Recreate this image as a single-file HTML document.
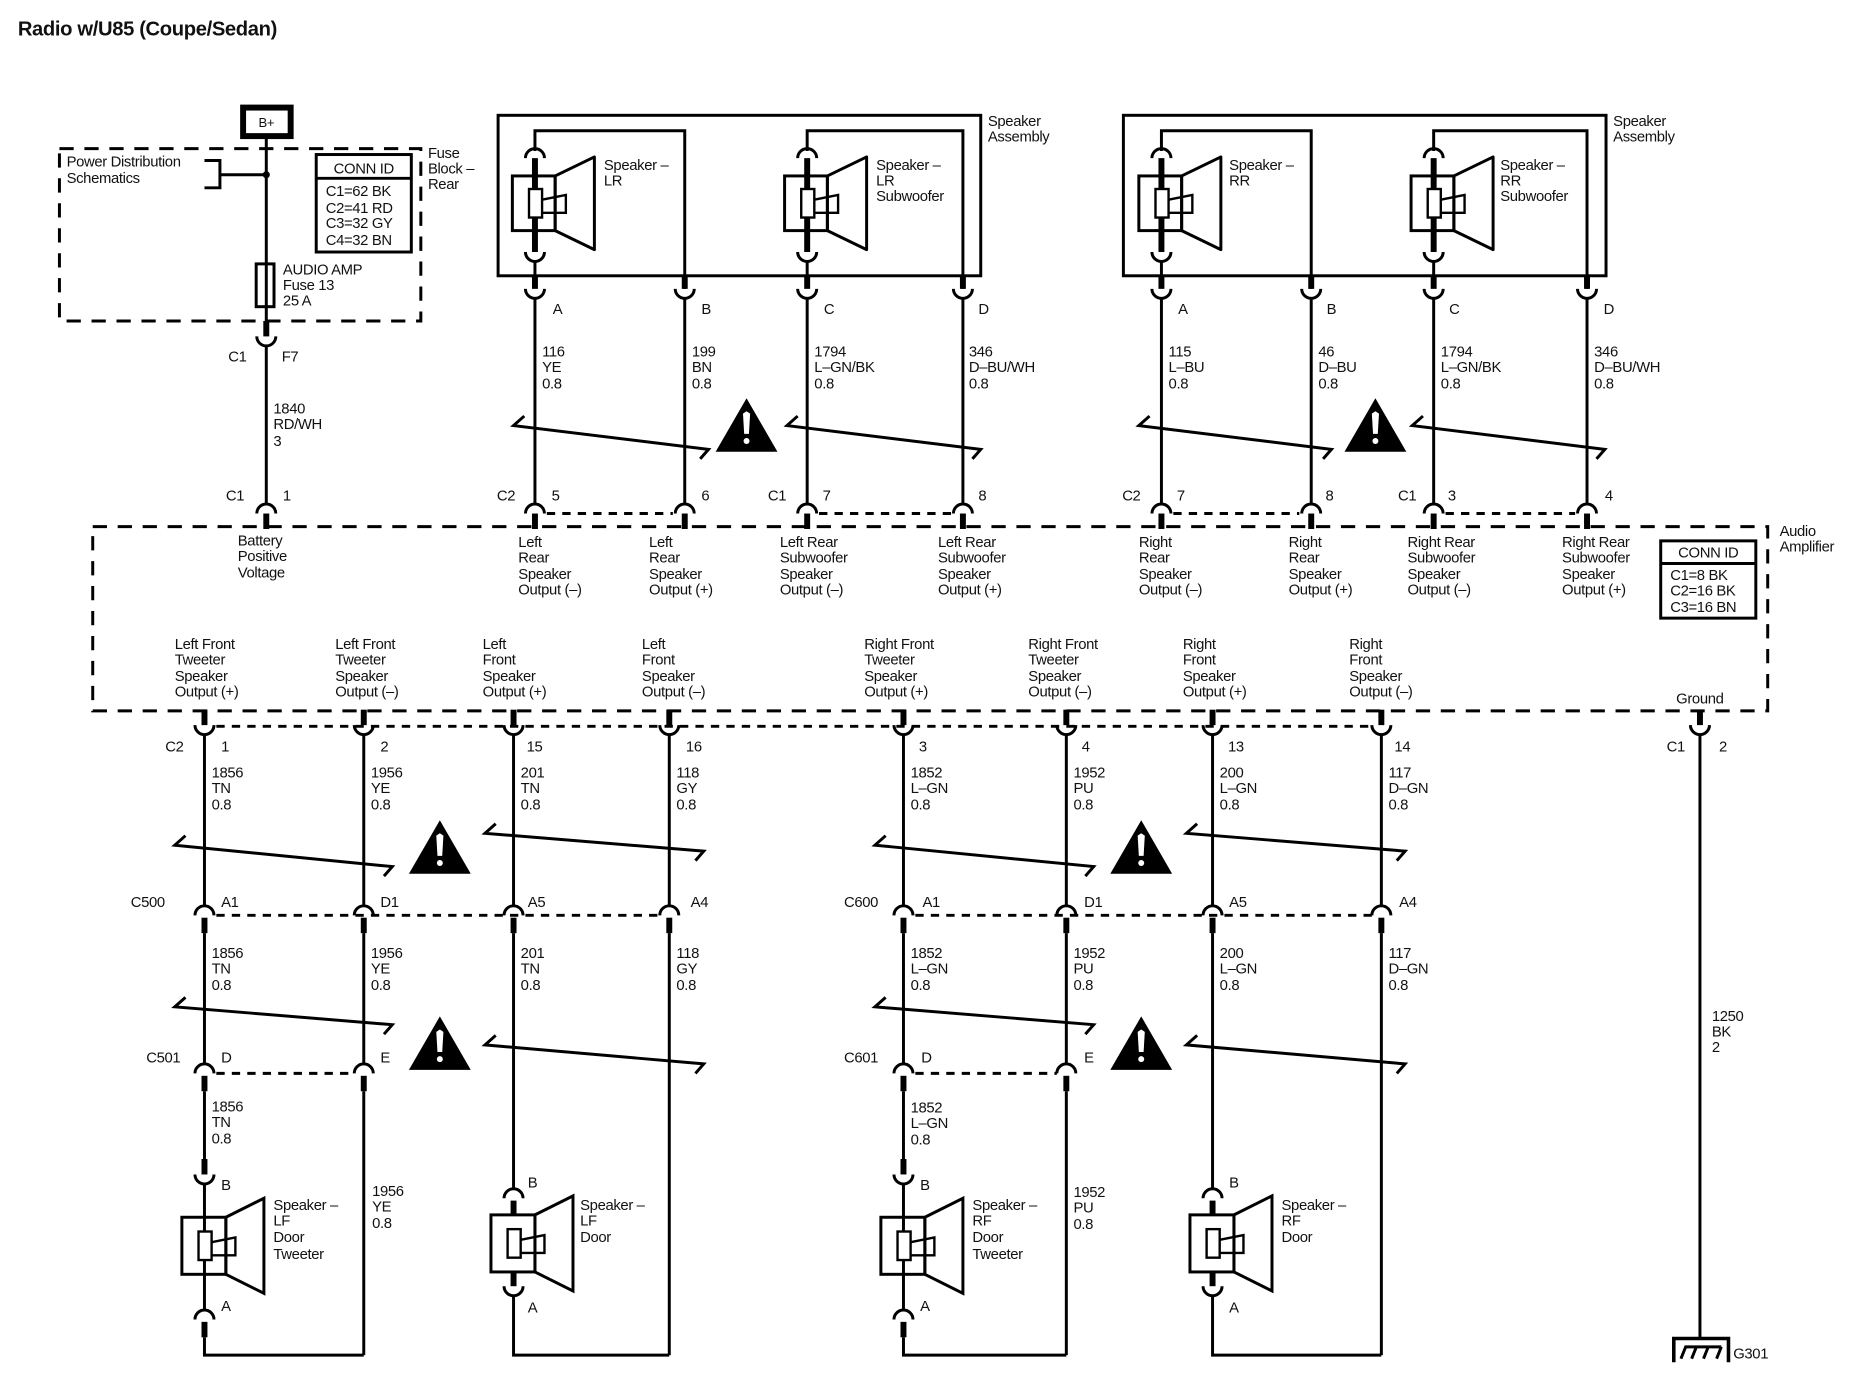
<!DOCTYPE html>
<html><head><meta charset="utf-8"><style>
html,body{margin:0;padding:0;background:#fff}
svg{display:block}
text{font-family:"Liberation Sans",sans-serif;font-size:12.5px;fill:#111;letter-spacing:-0.3px}
.b{font-weight:bold}
.w{stroke:#000;stroke-width:2.5;fill:none}
.t{stroke:#000;stroke-width:5;fill:none}
.a{stroke:#000;stroke-width:2.5;fill:none}
.d{stroke:#000;stroke-width:2.5;fill:none;stroke-dasharray:7,6}
.dl{stroke:#000;stroke-width:2.5;fill:none;stroke-dasharray:12,9}
</style></head><body>
<svg width="1864" height="1392" viewBox="0 0 1568 1171" preserveAspectRatio="none" xmlns="http://www.w3.org/2000/svg">
<defs>
<g id="spk">
<rect x="-19" y="-23" width="36" height="46" fill="#fff" stroke="#000" stroke-width="2.5"/>
<polygon points="17,-23 50,-39 50,39 17,23" fill="none" stroke="#000" stroke-width="2.5" stroke-linejoin="round"/>
<line x1="0" y1="-23" x2="0" y2="23" stroke="#000" stroke-width="5"/>
<rect x="-5" y="-12" width="11" height="24" fill="#fff" stroke="#000" stroke-width="2"/>
<path d="M6,-3 L26,-7 L26,8 L6,8" fill="none" stroke="#000" stroke-width="2"/>
</g>
<g id="cup"><path d="M-8,0 A8,8 0 0 0 8,0" class="a"/></g>
<g id="cap"><path d="M-8,0 A8,8 0 0 1 8,0" class="a"/></g>
<g id="tri"><polygon points="0,0 -26,45 26,45" fill="#000"/><path d="M0,11 L-3,13 L-2,30 L2,30 L3,13 Z" fill="#fff"/><circle cx="0" cy="36" r="2.5" fill="#fff"/></g>
</defs>

<text x="15" y="30" class="b" style="font-size:17px">Radio w/U85 (Coupe/Sedan)</text>

<rect x="204.5" y="90.5" width="40" height="24" fill="none" stroke="#000" stroke-width="5"/>
<text x="224" y="107" text-anchor="middle" style="font-size:11px">B+</text>
<rect x="50" y="125" width="304" height="145" class="dl"/>
<line x1="224" y1="116" x2="224" y2="272" class="w"/>
<rect x="215.5" y="222" width="15" height="36" fill="#fff" stroke="#000" stroke-width="2.5"/>
<line x1="224" y1="222" x2="224" y2="258" class="w"/>
<path d="M172,135 L185,135 L185,158 L172,158 M185,147 L224,147" class="w"/>
<circle cx="224" cy="147" r="3"/>
<text x="56" y="140">Power Distribution</text>
<text x="56" y="154">Schematics</text>
<rect x="266" y="130" width="80" height="82" fill="none" stroke="#000" stroke-width="2.5"/>
<line x1="266" y1="150" x2="346" y2="150" class="w"/>
<text x="306" y="146" text-anchor="middle">CONN ID</text>
<text x="274" y="165">C1=62 BK</text>
<text x="274" y="179">C2=41 RD</text>
<text x="274" y="192">C3=32 GY</text>
<text x="274" y="206">C4=32 BN</text>
<text x="360" y="133">Fuse</text><text x="360" y="146">Block –</text><text x="360" y="159">Rear</text>
<text x="238" y="231">AUDIO AMP</text><text x="238" y="244">Fuse 13</text><text x="238" y="257">25 A</text>
<line x1="224" y1="270" x2="224" y2="283" class="t"/>
<use href="#cup" x="224" y="283"/>
<line x1="224" y1="291" x2="224" y2="424" class="w"/>
<text x="192" y="304">C1</text><text x="237" y="304">F7</text>
<text x="230" y="348">1840</text><text x="230" y="361">RD/WH</text><text x="230" y="375">3</text>
<text x="190" y="421">C1</text><text x="238" y="421">1</text>
<use href="#cap" x="224" y="432"/>
<line x1="224" y1="432" x2="224" y2="445" class="t"/>

<rect x="78" y="443" width="1409" height="155" class="dl"/>
<text x="200" y="459">Battery</text><text x="200" y="472">Positive</text><text x="200" y="486">Voltage</text>

<rect x="419" y="97" width="406" height="135" class="w"/>
<rect x="945" y="97" width="406" height="135" class="w"/>
<text x="831" y="106">Speaker</text><text x="831" y="119">Assembly</text>
<text x="1357" y="106">Speaker</text><text x="1357" y="119">Assembly</text>

<g>
<path d="M450,127 L450,110 L576,110 L576,243" class="w"/>
<path d="M679,127 L679,110 L810,110 L810,243" class="w"/>
<path d="M977,127 L977,110 L1103,110 L1103,243" class="w"/>
<path d="M1206,127 L1206,110 L1335,110 L1335,243" class="w"/>
</g>
<use href="#cap" x="450" y="133"/><use href="#cap" x="679" y="133"/><use href="#cap" x="977" y="133"/><use href="#cap" x="1206" y="133"/>
<line x1="450" y1="133" x2="450" y2="212" class="t"/><line x1="679" y1="133" x2="679" y2="212" class="t"/><line x1="977" y1="133" x2="977" y2="212" class="t"/><line x1="1206" y1="133" x2="1206" y2="212" class="t"/>
<use href="#spk" x="450" y="171"/><use href="#spk" x="679" y="171"/><use href="#spk" x="977" y="171"/><use href="#spk" x="1206" y="171"/>
<use href="#cup" x="450" y="212"/><use href="#cup" x="679" y="212"/><use href="#cup" x="977" y="212"/><use href="#cup" x="1206" y="212"/>
<g class="w">
<line x1="450" y1="220" x2="450" y2="232"/><line x1="679" y1="220" x2="679" y2="232"/><line x1="977" y1="220" x2="977" y2="232"/><line x1="1206" y1="220" x2="1206" y2="232"/>
</g>
<text x="508" y="143">Speaker –</text><text x="508" y="156">LR</text>
<text x="737" y="143">Speaker –</text><text x="737" y="156">LR</text><text x="737" y="169">Subwoofer</text>
<text x="1034" y="143">Speaker –</text><text x="1034" y="156">RR</text>
<text x="1262" y="143">Speaker –</text><text x="1262" y="156">RR</text><text x="1262" y="169">Subwoofer</text>

<g class="t">
<line x1="450" y1="232" x2="450" y2="243"/><line x1="576" y1="232" x2="576" y2="243"/><line x1="679" y1="232" x2="679" y2="243"/><line x1="810" y1="232" x2="810" y2="243"/>
<line x1="977" y1="232" x2="977" y2="243"/><line x1="1103" y1="232" x2="1103" y2="243"/><line x1="1206" y1="232" x2="1206" y2="243"/><line x1="1335" y1="232" x2="1335" y2="243"/>
</g>
<use href="#cup" x="450" y="243"/><use href="#cup" x="576" y="243"/><use href="#cup" x="679" y="243"/><use href="#cup" x="810" y="243"/>
<use href="#cup" x="977" y="243"/><use href="#cup" x="1103" y="243"/><use href="#cup" x="1206" y="243"/><use href="#cup" x="1335" y="243"/>
<g class="w">
<line x1="450" y1="251" x2="450" y2="424"/><line x1="576" y1="251" x2="576" y2="424"/><line x1="679" y1="251" x2="679" y2="424"/><line x1="810" y1="251" x2="810" y2="424"/>
<line x1="977" y1="251" x2="977" y2="424"/><line x1="1103" y1="251" x2="1103" y2="424"/><line x1="1206" y1="251" x2="1206" y2="424"/><line x1="1335" y1="251" x2="1335" y2="424"/>
</g>
<use href="#cap" x="450" y="432"/><use href="#cap" x="576" y="432"/><use href="#cap" x="679" y="432"/><use href="#cap" x="810" y="432"/>
<use href="#cap" x="977" y="432"/><use href="#cap" x="1103" y="432"/><use href="#cap" x="1206" y="432"/><use href="#cap" x="1335" y="432"/>
<g class="t">
<line x1="450" y1="432" x2="450" y2="445"/><line x1="576" y1="432" x2="576" y2="445"/><line x1="679" y1="432" x2="679" y2="445"/><line x1="810" y1="432" x2="810" y2="445"/>
<line x1="977" y1="432" x2="977" y2="445"/><line x1="1103" y1="432" x2="1103" y2="445"/><line x1="1206" y1="432" x2="1206" y2="445"/><line x1="1335" y1="432" x2="1335" y2="445"/>
</g>
<g class="d">
<line x1="460" y1="432" x2="566" y2="432"/><line x1="689" y1="432" x2="800" y2="432"/><line x1="987" y1="432" x2="1093" y2="432"/><line x1="1216" y1="432" x2="1325" y2="432"/>
</g>
<text x="465" y="264">A</text><text x="590" y="264">B</text><text x="693" y="264">C</text><text x="823" y="264">D</text>
<text x="991" y="264">A</text><text x="1116" y="264">B</text><text x="1219" y="264">C</text><text x="1349" y="264">D</text>
<text x="456" y="300">116</text><text x="456" y="313">YE</text><text x="456" y="327">0.8</text>
<text x="582" y="300">199</text><text x="582" y="313">BN</text><text x="582" y="327">0.8</text>
<text x="685" y="300">1794</text><text x="685" y="313">L–GN/BK</text><text x="685" y="327">0.8</text>
<text x="815" y="300">346</text><text x="815" y="313">D–BU/WH</text><text x="815" y="327">0.8</text>
<text x="983" y="300">115</text><text x="983" y="313">L–BU</text><text x="983" y="327">0.8</text>
<text x="1109" y="300">46</text><text x="1109" y="313">D–BU</text><text x="1109" y="327">0.8</text>
<text x="1212" y="300">1794</text><text x="1212" y="313">L–GN/BK</text><text x="1212" y="327">0.8</text>
<text x="1341" y="300">346</text><text x="1341" y="313">D–BU/WH</text><text x="1341" y="327">0.8</text>
<g class="w">
<path d="M441,350 L432,358 L596,378 L589,386"/>
<path d="M671,350 L662,358 L825,378 L818,386"/>
<path d="M967,350 L958,358 L1120,378 L1113,386"/>
<path d="M1197,350 L1188,358 L1350,378 L1343,386"/>
</g>
<use href="#tri" x="628" y="335"/><use href="#tri" x="1157" y="335"/>
<text x="418" y="421">C2</text><text x="464" y="421">5</text><text x="590" y="421">6</text>
<text x="646" y="421">C1</text><text x="692" y="421">7</text><text x="823" y="421">8</text>
<text x="944" y="421">C2</text><text x="990" y="421">7</text><text x="1115" y="421">8</text>
<text x="1176" y="421">C1</text><text x="1218" y="421">3</text><text x="1350" y="421">4</text>
<text x="436" y="460">Left</text><text x="436" y="473">Rear</text><text x="436" y="487">Speaker</text><text x="436" y="500">Output (–)</text>
<text x="546" y="460">Left</text><text x="546" y="473">Rear</text><text x="546" y="487">Speaker</text><text x="546" y="500">Output (+)</text>
<text x="656" y="460">Left Rear</text><text x="656" y="473">Subwoofer</text><text x="656" y="487">Speaker</text><text x="656" y="500">Output (–)</text>
<text x="789" y="460">Left Rear</text><text x="789" y="473">Subwoofer</text><text x="789" y="487">Speaker</text><text x="789" y="500">Output (+)</text>
<text x="958" y="460">Right</text><text x="958" y="473">Rear</text><text x="958" y="487">Speaker</text><text x="958" y="500">Output (–)</text>
<text x="1084" y="460">Right</text><text x="1084" y="473">Rear</text><text x="1084" y="487">Speaker</text><text x="1084" y="500">Output (+)</text>
<text x="1184" y="460">Right Rear</text><text x="1184" y="473">Subwoofer</text><text x="1184" y="487">Speaker</text><text x="1184" y="500">Output (–)</text>
<text x="1314" y="460">Right Rear</text><text x="1314" y="473">Subwoofer</text><text x="1314" y="487">Speaker</text><text x="1314" y="500">Output (+)</text>
<rect x="1397" y="455" width="80" height="65" fill="#fff" stroke="#000" stroke-width="2.5"/>
<line x1="1397" y1="474" x2="1477" y2="474" class="w"/>
<text x="1437" y="469" text-anchor="middle">CONN ID</text>
<text x="1405" y="488">C1=8 BK</text><text x="1405" y="501">C2=16 BK</text><text x="1405" y="515">C3=16 BN</text>
<rect x="1489" y="440" width="70" height="30" fill="#fff"/>
<text x="1497" y="451">Audio</text><text x="1497" y="464">Amplifier</text>
<text x="147" y="546">Left Front</text><text x="147" y="559">Tweeter</text><text x="147" y="573">Speaker</text><text x="147" y="586">Output (+)</text>
<text x="282" y="546">Left Front</text><text x="282" y="559">Tweeter</text><text x="282" y="573">Speaker</text><text x="282" y="586">Output (–)</text>
<text x="406" y="546">Left</text><text x="406" y="559">Front</text><text x="406" y="573">Speaker</text><text x="406" y="586">Output (+)</text>
<text x="540" y="546">Left</text><text x="540" y="559">Front</text><text x="540" y="573">Speaker</text><text x="540" y="586">Output (–)</text>
<text x="727" y="546">Right Front</text><text x="727" y="559">Tweeter</text><text x="727" y="573">Speaker</text><text x="727" y="586">Output (+)</text>
<text x="865" y="546">Right Front</text><text x="865" y="559">Tweeter</text><text x="865" y="573">Speaker</text><text x="865" y="586">Output (–)</text>
<text x="995" y="546">Right</text><text x="995" y="559">Front</text><text x="995" y="573">Speaker</text><text x="995" y="586">Output (+)</text>
<text x="1135" y="546">Right</text><text x="1135" y="559">Front</text><text x="1135" y="573">Speaker</text><text x="1135" y="586">Output (–)</text>
<text x="1410" y="592">Ground</text>

<g class="t">
<line x1="172" y1="597" x2="172" y2="610"/><line x1="306" y1="597" x2="306" y2="610"/><line x1="432" y1="597" x2="432" y2="610"/><line x1="563" y1="597" x2="563" y2="610"/>
<line x1="760" y1="597" x2="760" y2="610"/><line x1="897" y1="597" x2="897" y2="610"/><line x1="1020" y1="597" x2="1020" y2="610"/><line x1="1162" y1="597" x2="1162" y2="610"/>
<line x1="1430" y1="597" x2="1430" y2="610"/>
</g>
<use href="#cup" x="172" y="610"/><use href="#cup" x="306" y="610"/><use href="#cup" x="432" y="610"/><use href="#cup" x="563" y="610"/>
<use href="#cup" x="760" y="610"/><use href="#cup" x="897" y="610"/><use href="#cup" x="1020" y="610"/><use href="#cup" x="1162" y="610"/>
<use href="#cup" x="1430" y="610"/>
<line x1="182" y1="611" x2="1154" y2="611" class="d"/>
<text x="139" y="632">C2</text><text x="186" y="632">1</text><text x="320" y="632">2</text><text x="443" y="632">15</text><text x="577" y="632">16</text>
<text x="773" y="632">3</text><text x="910" y="632">4</text><text x="1033" y="632">13</text><text x="1173" y="632">14</text>
<text x="1402" y="632">C1</text><text x="1446" y="632">2</text>

<g class="w">
<line x1="172" y1="618" x2="172" y2="762"/><line x1="306" y1="618" x2="306" y2="762"/><line x1="432" y1="618" x2="432" y2="762"/><line x1="563" y1="618" x2="563" y2="762"/>
<line x1="760" y1="618" x2="760" y2="762"/><line x1="897" y1="618" x2="897" y2="762"/><line x1="1020" y1="618" x2="1020" y2="762"/><line x1="1162" y1="618" x2="1162" y2="762"/>
<line x1="1430" y1="618" x2="1430" y2="1125"/>
</g>
<text x="178" y="654">1856</text><text x="178" y="667">TN</text><text x="178" y="681">0.8</text>
<text x="312" y="654">1956</text><text x="312" y="667">YE</text><text x="312" y="681">0.8</text>
<text x="438" y="654">201</text><text x="438" y="667">TN</text><text x="438" y="681">0.8</text>
<text x="569" y="654">118</text><text x="569" y="667">GY</text><text x="569" y="681">0.8</text>
<text x="766" y="654">1852</text><text x="766" y="667">L–GN</text><text x="766" y="681">0.8</text>
<text x="903" y="654">1952</text><text x="903" y="667">PU</text><text x="903" y="681">0.8</text>
<text x="1026" y="654">200</text><text x="1026" y="667">L–GN</text><text x="1026" y="681">0.8</text>
<text x="1168" y="654">117</text><text x="1168" y="667">D–GN</text><text x="1168" y="681">0.8</text>
<g class="w">
<path d="M156,703 L147,711 L330,729 L323,737"/>
<path d="M417,693 L408,701 L592,716 L585,724"/>
<path d="M745,703 L736,711 L920,729 L913,737"/>
<path d="M1007,693 L998,701 L1182,716 L1175,724"/>
</g>
<use href="#tri" x="370" y="690"/><use href="#tri" x="960" y="690"/>
<use href="#cap" x="172" y="770"/><use href="#cap" x="306" y="770"/><use href="#cap" x="432" y="770"/><use href="#cap" x="563" y="770"/>
<use href="#cap" x="760" y="770"/><use href="#cap" x="897" y="770"/><use href="#cap" x="1020" y="770"/><use href="#cap" x="1162" y="770"/>
<line x1="182" y1="770" x2="555" y2="770" class="d"/><line x1="770" y1="770" x2="1154" y2="770" class="d"/>
<g class="t">
<line x1="172" y1="772" x2="172" y2="785"/><line x1="306" y1="772" x2="306" y2="785"/><line x1="432" y1="772" x2="432" y2="785"/><line x1="563" y1="772" x2="563" y2="785"/>
<line x1="760" y1="772" x2="760" y2="785"/><line x1="897" y1="772" x2="897" y2="785"/><line x1="1020" y1="772" x2="1020" y2="785"/><line x1="1162" y1="772" x2="1162" y2="785"/>
</g>
<text x="110" y="763">C500</text><text x="186" y="763">A1</text><text x="320" y="763">D1</text><text x="444" y="763">A5</text><text x="581" y="763">A4</text>
<text x="710" y="763">C600</text><text x="776" y="763">A1</text><text x="912" y="763">D1</text><text x="1034" y="763">A5</text><text x="1177" y="763">A4</text>
<g class="w">
<line x1="172" y1="785" x2="172" y2="895"/><line x1="306" y1="785" x2="306" y2="895"/><line x1="432" y1="785" x2="432" y2="1000"/><line x1="563" y1="785" x2="563" y2="1140"/>
<line x1="760" y1="785" x2="760" y2="895"/><line x1="897" y1="785" x2="897" y2="895"/><line x1="1020" y1="785" x2="1020" y2="1000"/><line x1="1162" y1="785" x2="1162" y2="1140"/>
</g>
<text x="178" y="806">1856</text><text x="178" y="819">TN</text><text x="178" y="833">0.8</text>
<text x="312" y="806">1956</text><text x="312" y="819">YE</text><text x="312" y="833">0.8</text>
<text x="438" y="806">201</text><text x="438" y="819">TN</text><text x="438" y="833">0.8</text>
<text x="569" y="806">118</text><text x="569" y="819">GY</text><text x="569" y="833">0.8</text>
<text x="766" y="806">1852</text><text x="766" y="819">L–GN</text><text x="766" y="833">0.8</text>
<text x="903" y="806">1952</text><text x="903" y="819">PU</text><text x="903" y="833">0.8</text>
<text x="1026" y="806">200</text><text x="1026" y="819">L–GN</text><text x="1026" y="833">0.8</text>
<text x="1168" y="806">117</text><text x="1168" y="819">D–GN</text><text x="1168" y="833">0.8</text>
<g class="w">
<path d="M156,839 L147,847 L330,862 L323,870"/>
<path d="M417,871 L408,879 L592,895 L585,903"/>
<path d="M745,839 L736,847 L920,862 L913,870"/>
<path d="M1007,871 L998,879 L1182,895 L1175,903"/>
</g>
<use href="#tri" x="370" y="855"/><use href="#tri" x="960" y="855"/>
<use href="#cap" x="172" y="903"/><use href="#cap" x="306" y="903"/><use href="#cap" x="760" y="903"/><use href="#cap" x="897" y="903"/>
<line x1="182" y1="903" x2="298" y2="903" class="d"/><line x1="770" y1="903" x2="889" y2="903" class="d"/>
<g class="t">
<line x1="172" y1="905" x2="172" y2="918"/><line x1="306" y1="905" x2="306" y2="918"/><line x1="760" y1="905" x2="760" y2="918"/><line x1="897" y1="905" x2="897" y2="918"/>
</g>
<text x="123" y="894">C501</text><text x="186" y="894">D</text><text x="320" y="894">E</text>
<text x="710" y="894">C601</text><text x="775" y="894">D</text><text x="912" y="894">E</text>
<g class="w">
<line x1="172" y1="918" x2="172" y2="975"/><line x1="306" y1="918" x2="306" y2="1140"/>
<line x1="760" y1="918" x2="760" y2="975"/><line x1="897" y1="918" x2="897" y2="1140"/>
</g>
<text x="178" y="935">1856</text><text x="178" y="948">TN</text><text x="178" y="962">0.8</text>
<text x="766" y="936">1852</text><text x="766" y="949">L–GN</text><text x="766" y="963">0.8</text>
<text x="313" y="1006">1956</text><text x="313" y="1019">YE</text><text x="313" y="1033">0.8</text>
<text x="903" y="1007">1952</text><text x="903" y="1020">PU</text><text x="903" y="1034">0.8</text>

<g class="t"><line x1="172" y1="975" x2="172" y2="988"/><line x1="760" y1="975" x2="760" y2="988"/></g>
<use href="#cup" x="172" y="988"/><use href="#cup" x="760" y="988"/>
<g class="w"><line x1="172" y1="996" x2="172" y2="1102"/><line x1="760" y1="996" x2="760" y2="1102"/></g>
<g transform="translate(172,1048)"><rect x="-19" y="-24" width="37" height="48" fill="#fff" stroke="#000" stroke-width="2.5"/><polygon points="18,-24 50,-40 50,40 18,24" fill="none" stroke="#000" stroke-width="2.5"/><line x1="0" y1="-24" x2="0" y2="24" class="w"/><rect x="-5" y="-12" width="11" height="24" fill="#fff" stroke="#000" stroke-width="2"/><path d="M6,-3 L26,-7 L26,8 L6,8" fill="none" stroke="#000" stroke-width="2"/></g>
<g transform="translate(760,1048)"><rect x="-19" y="-24" width="37" height="48" fill="#fff" stroke="#000" stroke-width="2.5"/><polygon points="18,-24 50,-40 50,40 18,24" fill="none" stroke="#000" stroke-width="2.5"/><line x1="0" y1="-24" x2="0" y2="24" class="w"/><rect x="-5" y="-12" width="11" height="24" fill="#fff" stroke="#000" stroke-width="2"/><path d="M6,-3 L26,-7 L26,8 L6,8" fill="none" stroke="#000" stroke-width="2"/></g>
<use href="#cap" x="172" y="1110"/><use href="#cap" x="760" y="1110"/>
<g class="t"><line x1="172" y1="1112" x2="172" y2="1125"/><line x1="760" y1="1112" x2="760" y2="1125"/></g>
<path d="M172,1125 L172,1140 L306,1140" class="w"/><path d="M760,1125 L760,1140 L897,1140" class="w"/>
<text x="186" y="1001">B</text><text x="186" y="1103">A</text>
<text x="774" y="1001">B</text><text x="774" y="1103">A</text>
<text x="230" y="1018">Speaker –</text><text x="230" y="1031">LF</text><text x="230" y="1045">Door</text><text x="230" y="1059">Tweeter</text>
<text x="818" y="1018">Speaker –</text><text x="818" y="1031">RF</text><text x="818" y="1045">Door</text><text x="818" y="1059">Tweeter</text>

<use href="#cap" x="432" y="1008"/><use href="#cap" x="1020" y="1008"/>
<g transform="translate(432,1046)"><line x1="0" y1="-36" x2="0" y2="-24" class="t"/><line x1="0" y1="24" x2="0" y2="36" class="t"/><rect x="-19" y="-24" width="37" height="48" fill="#fff" stroke="#000" stroke-width="2.5"/><polygon points="18,-24 50,-40 50,40 18,24" fill="none" stroke="#000" stroke-width="2.5"/><rect x="-5" y="-12" width="11" height="24" fill="#fff" stroke="#000" stroke-width="2"/><path d="M6,-3 L26,-7 L26,8 L6,8" fill="none" stroke="#000" stroke-width="2"/></g>
<g transform="translate(1020,1046)"><line x1="0" y1="-36" x2="0" y2="-24" class="t"/><line x1="0" y1="24" x2="0" y2="36" class="t"/><rect x="-19" y="-24" width="37" height="48" fill="#fff" stroke="#000" stroke-width="2.5"/><polygon points="18,-24 50,-40 50,40 18,24" fill="none" stroke="#000" stroke-width="2.5"/><rect x="-5" y="-12" width="11" height="24" fill="#fff" stroke="#000" stroke-width="2"/><path d="M6,-3 L26,-7 L26,8 L6,8" fill="none" stroke="#000" stroke-width="2"/></g>
<use href="#cup" x="432" y="1082"/><use href="#cup" x="1020" y="1082"/>
<path d="M432,1090 L432,1140 L563,1140" class="w"/><path d="M1020,1090 L1020,1140 L1162,1140" class="w"/>
<text x="444" y="999">B</text><text x="444" y="1104">A</text>
<text x="1034" y="999">B</text><text x="1034" y="1104">A</text>
<text x="488" y="1018">Speaker –</text><text x="488" y="1031">LF</text><text x="488" y="1045">Door</text>
<text x="1078" y="1018">Speaker –</text><text x="1078" y="1031">RF</text><text x="1078" y="1045">Door</text>

<text x="1440" y="859">1250</text><text x="1440" y="872">BK</text><text x="1440" y="885">2</text>
<path d="M1408,1146 L1408,1126 L1454,1126 L1454,1146" fill="none" stroke="#000" stroke-width="3"/>
<path d="M1414,1143 L1418,1133 L1448,1133 M1427,1133 L1423,1143 M1437,1133 L1433,1143 M1448,1133 L1444,1143" fill="none" stroke="#000" stroke-width="2.5"/>
<text x="1458" y="1143">G301</text>
</svg>
</body></html>
